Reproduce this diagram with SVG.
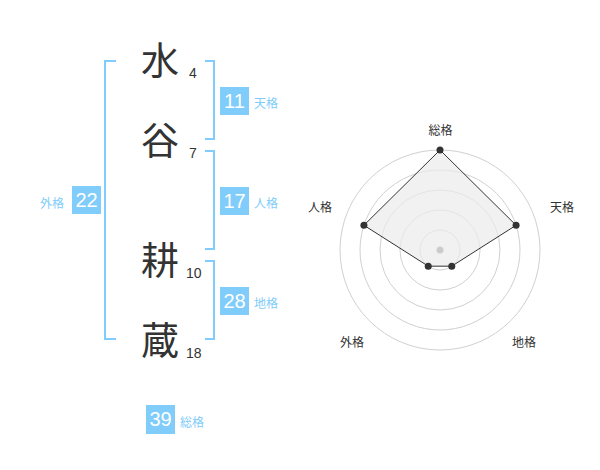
<svg xmlns="http://www.w3.org/2000/svg" width="600" height="470" viewBox="0 0 600 470">
<style>
.k{font-family:"Noto Sans CJK JP","Noto Sans CJK SC",sans-serif;font-size:38px;fill:#333;text-anchor:middle}
.n{font-family:"Liberation Sans",Arial,sans-serif;font-size:14px;fill:#333}
.br{fill:none;stroke:#80ccfa;stroke-width:2}
.bx{fill:#80ccfa}
.bn{font-family:"Liberation Sans",Arial,sans-serif;font-size:20px;fill:#fff;text-anchor:middle}
.bl{font-family:"Noto Sans CJK JP","Noto Sans CJK SC",sans-serif;font-size:12px;fill:#80ccfa}
.ring{fill:none;stroke:#d0d0d0;stroke-width:1}
.rl{font-family:"Noto Sans CJK JP","Noto Sans CJK SC",sans-serif;font-size:12px;fill:#333;text-anchor:middle}
.pt{fill:#333}
</style>
<g id="chars">
<g id="c1"><text class="k" x="160" y="74">水</text><text class="n" x="189" y="78">4</text></g>
<g id="c2"><text class="k" x="160" y="154">谷</text><text class="n" x="189" y="158">7</text></g>
<g id="c3"><text class="k" x="160" y="274">耕</text><text class="n" x="186" y="278">10</text></g>
<g id="c4"><text class="k" x="160" y="354">蔵</text><text class="n" x="186" y="358">18</text></g>
</g>
<g id="connectors">
<path class="br" d="M116,61 H105 V339 H116"/>
<path class="br" d="M205,61 H214 V139 H205"/>
<path class="br" d="M205,151 H214 V249 H205"/>
<path class="br" d="M205,261 H214 V339 H205"/>
</g>
<g id="tenkaku"><rect class="bx" x="220" y="87" width="29" height="28"/><text class="bn" x="234.5" y="108">11</text><text class="bl" x="254" y="108">天格</text></g>
<g id="jinkaku"><rect class="bx" x="220" y="187" width="29" height="28"/><text class="bn" x="234.5" y="208">17</text><text class="bl" x="254" y="208">人格</text></g>
<g id="chikaku"><rect class="bx" x="220" y="287" width="29" height="28"/><text class="bn" x="234.5" y="308">28</text><text class="bl" x="254" y="308">地格</text></g>
<g id="gaikaku"><rect class="bx" x="72" y="186" width="29" height="28"/><text class="bn" x="86.5" y="207">22</text><text class="bl" x="40" y="208">外格</text></g>
<g id="soukaku"><rect class="bx" x="146" y="405" width="29" height="29"/><text class="bn" x="160.5" y="426">39</text><text class="bl" x="180" y="427">総格</text></g>
<g id="radar">
<circle class="ring" cx="440" cy="250" r="20"/>
<circle class="ring" cx="440" cy="250" r="40"/>
<circle class="ring" cx="440" cy="250" r="60"/>
<circle class="ring" cx="440" cy="250" r="80"/>
<circle class="ring" cx="440" cy="250" r="100"/>
<polygon points="440,150 516.08,225.28 451.76,266.18 428.24,266.18 363.92,225.28" fill="#ebebeb" fill-opacity="0.7" stroke="#333" stroke-width="1"/>
<circle cx="440" cy="250" r="3.5" fill="#ccc"/>
<circle class="pt" cx="440" cy="150" r="3.5"/>
<circle class="pt" cx="516.08" cy="225.28" r="3.5"/>
<circle class="pt" cx="451.76" cy="266.18" r="3.5"/>
<circle class="pt" cx="428.24" cy="266.18" r="3.5"/>
<circle class="pt" cx="363.92" cy="225.28" r="3.5"/>
<text class="rl" x="440.5" y="135">総格</text>
<text class="rl" x="562" y="212">天格</text>
<text class="rl" x="320" y="212">人格</text>
<text class="rl" x="352" y="347">外格</text>
<text class="rl" x="524" y="347">地格</text>
</g>
</svg>
